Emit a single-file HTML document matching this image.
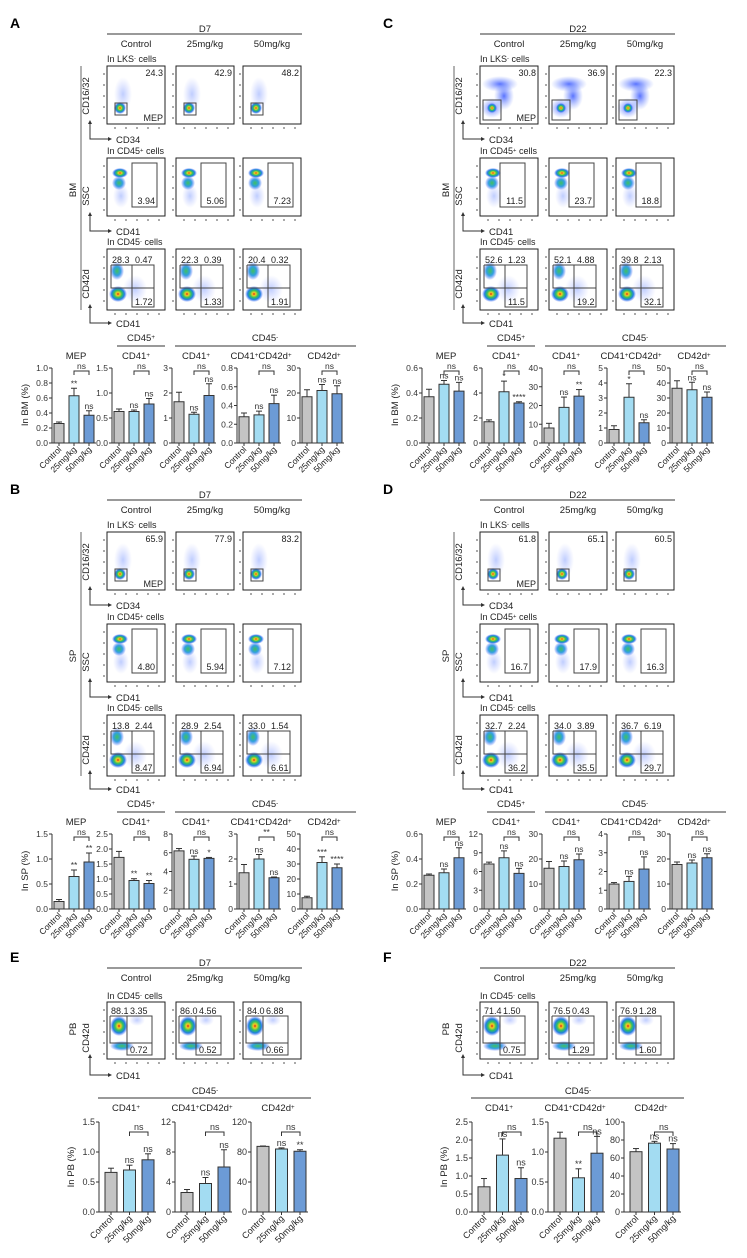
<!DOCTYPE html>
<html><head><meta charset="utf-8">
<style>
html,body{margin:0;padding:0;background:#fff;}
svg{display:block;font-family:"Liberation Sans",Arial,sans-serif;}
</style></head>
<body>
<svg id="fig" xmlns="http://www.w3.org/2000/svg" width="747" height="1258" viewBox="0 0 747 1258">
<defs>
<radialGradient id="hot">
<stop offset="0" stop-color="#e0201a"/>
<stop offset="0.2" stop-color="#f0d020"/>
<stop offset="0.45" stop-color="#30c060"/>
<stop offset="0.7" stop-color="#2080e0"/>
<stop offset="1" stop-color="#4060ff" stop-opacity="0"/>
</radialGradient>
<radialGradient id="grn">
<stop offset="0" stop-color="#40c060"/>
<stop offset="0.5" stop-color="#30a0e0"/>
<stop offset="1" stop-color="#4060ff" stop-opacity="0"/>
</radialGradient>
<radialGradient id="cool">
<stop offset="0" stop-color="#3050ff" stop-opacity="0.8"/>
<stop offset="1" stop-color="#6080ff" stop-opacity="0"/>
</radialGradient>
<radialGradient id="faint">
<stop offset="0" stop-color="#7090ff" stop-opacity="0.45"/>
<stop offset="1" stop-color="#90a0ff" stop-opacity="0"/>
</radialGradient>
</defs>
<g id="root"></g>
</svg>
<script>
// ---------- bar chart data ----------
const groups = ["Control", "25mg/kg", "50mg/kg"];
// Panel A (BM, D7)
const aTitles = ["MEP", "CD41+", "CD41+", "CD41+CD42d+", "CD42d+"];
const aMax = [1.0, 1.5, 3, 0.8, 30];
const aTicks = [["0.0","0.2","0.4","0.6","0.8","1.0"],["0.0","0.5","1.0","1.5"],["0","1","2","3"],["0.0","0.2","0.4","0.6","0.8"],["0","10","20","30"]];
const aMeans = [[0.26,0.63,0.37],[0.63,0.63,0.78],[1.65,1.15,1.9],[0.28,0.30,0.42],[18.5,21,19.7]];
const aErrs = [[0.02,0.10,0.06],[0.05,0.03,0.11],[0.38,0.08,0.47],[0.04,0.04,0.09],[2.8,2.4,3.2]];
const aAnn = [["","**","ns"],["","ns","ns"],["","ns","ns"],["","ns","ns"],["","ns","ns"]];
const aBr = ["ns","ns","ns","ns","ns"];
// Panel B (SP, D7)
const bMax = [1.5, 2.5, 8, 3, 50];
const bTicks = [["0.0","0.5","1.0","1.5"],["0.0","0.5","1.0","1.5","2.0","2.5"],["0","2","4","6","8"],["0","1","2","3"],["0","10","20","30","40","50"]];
const bMeans = [[0.15,0.65,0.94],[1.72,0.95,0.85],[6.2,5.3,5.4],[1.45,2.0,1.25],[7.5,31,27.5]];
const bErrs = [[0.04,0.13,0.18],[0.20,0.06,0.10],[0.25,0.35,0.10],[0.33,0.18,0.03],[1.0,3.8,2.5]];
const bAnn = [["","**","**"],["","**","**"],["","ns","*"],["","ns","ns"],["","***","****"]];
const bBr = ["ns","ns","ns","**","ns"];
// Panel C (BM, D22)
const cMax = [0.6, 6, 40, 5, 50];
const cTicks = [["0.0","0.2","0.4","0.6"],["0","2","4","6"],["0","10","20","30","40"],["0","1","2","3","4","5"],["0","10","20","30","40","50"]];
const cMeans = [[0.37,0.47,0.415],[1.7,4.1,3.2],[8,19,25],[0.9,3.05,1.35],[36.5,35.5,30.5]];
const cErrs = [[0.06,0.03,0.07],[0.15,0.85,0.10],[2.5,5.5,3.5],[0.25,0.9,0.2],[5,5,3.5]];
const cAnn = [["","ns","ns"],["","*","****"],["","ns","**"],["","*","ns"],["","ns","ns"]];
const cBr = ["ns","ns","ns","ns","ns"];
// Panel D (SP, D22)
const dMax = [0.6, 12, 30, 4, 30];
const dTicks = [["0.0","0.2","0.4","0.6"],["0","3","6","9","12"],["0","10","20","30"],["0","1","2","3","4"],["0","10","20","30"]];
const dMeans = [[0.27,0.29,0.41],[7.2,8.2,5.7],[16.3,17,19.7],[1.33,1.47,2.13],[17.8,18.4,20.5]];
const dErrs = [[0.01,0.03,0.08],[0.3,1.1,0.8],[2.7,2.2,2.3],[0.08,0.27,0.65],[1.0,1.2,1.6]];
const dAnn = [["","ns","ns"],["","ns","ns"],["","ns","ns"],["","ns","ns"],["","ns","ns"]];
const dBr = ["ns","ns","ns","ns","ns"];
// Panel E (PB, D7)
const eTitles = ["CD41+", "CD41+CD42d+", "CD42d+"];
const eMax = [1.5, 12, 120];
const eTicks = [["0.0","0.5","1.0","1.5"],["0","4","8","12"],["0","40","80","120"]];
const eMeans = [[0.66,0.70,0.87],[2.6,3.8,6.0],[87.5,84,81]];
const eErrs = [[0.07,0.08,0.10],[0.4,0.8,2.3],[0.5,1.5,2.0]];
const eAnn = [["","ns","ns"],["","ns","ns"],["","ns","**"]];
// Panel F (PB, D22)
const fMax = [2.5, 1.5, 100];
const fTicks = [["0.0","0.5","1.0","1.5","2.0","2.5"],["0.0","0.5","1.0","1.5"],["0","20","40","60","80","100"]];
const fMeans = [[0.70,1.58,0.93],[1.23,0.57,0.98],[67,76.5,70]];
const fErrs = [[0.23,0.45,0.30],[0.10,0.15,0.28],[3.5,2.0,6.0]];
const fAnn = [["","ns","ns"],["","**","ns"],["","ns","ns"]];
// flow numbers
const flowA = {r1:["24.3","42.9","48.2"], r2:["3.94","5.06","7.23"], r3:[["28.3","0.47","1.72"],["22.3","0.39","1.33"],["20.4","0.32","1.91"]]};
const flowB = {r1:["65.9","77.9","83.2"], r2:["4.80","5.94","7.12"], r3:[["13.8","2.44","8.47"],["28.9","2.54","6.94"],["33.0","1.54","6.61"]]};
const flowC = {r1:["30.8","36.9","22.3"], r2:["11.5","23.7","18.8"], r3:[["52.6","1.23","11.5"],["52.1","4.88","19.2"],["39.8","2.13","32.1"]]};
const flowD = {r1:["61.8","65.1","60.5"], r2:["16.7","17.9","16.3"], r3:[["32.7","2.24","36.2"],["34.0","3.89","35.5"],["36.7","6.19","29.7"]]};
const flowE = [["88.1","3.35","0.72"],["86.0","4.56","0.52"],["84.0","6.88","0.66"]];
const flowF = [["71.4","1.50","0.75"],["76.5","0.43","1.29"],["76.9","1.28","1.60"]];

const NS = "http://www.w3.org/2000/svg";
const root = document.getElementById("root");
const colors = ["#c4c4c4", "#a3dcf2", "#6c9bd6"];
function mk(tag, attrs, parent, txt) {
  const e = document.createElementNS(NS, tag);
  for (const k in attrs) e.setAttribute(k, attrs[k]);
  if (txt !== undefined) e.textContent = txt;
  (parent || root).appendChild(e);
  return e;
}
function txt(x, y, s, size, anchor, parent, name) {
  const t = mk("text", {x:x, y:y, "font-size":size, "text-anchor":anchor||"start", fill:"#222"}, parent);
  
  
  const parts = s.split(/([+\-](?=$|\s|C))/);
  parts.forEach(p => {
    if (p === "+" || p === "-") {
      mk("tspan", {"font-size": size*0.65, "baseline-shift": "35%"}, t, p);
    } else if (p) {
      mk("tspan", {}, t, p);
    }
  });
  return t;
}
function line(x1,y1,x2,y2,w,c,parent){
  const l = mk("line",{x1:x1,y1:y1,x2:x2,y2:y2,stroke:c||"#222","stroke-width":w||1},parent);
  
  
  return l;
}

// ---------- bar chart ----------
function barChart(axisX, topY, zeroY, max, ticks, means, errs, ann, bracket, opt) {
  const g = mk("g", {});
  
  
  const bw = opt.bw, step = opt.step, off = opt.off;
  const yScale = v => zeroY - (v / max) * (zeroY - topY);
  const xPos = i => axisX + off + i * step;
  const right = xPos(2) + bw + 2;
  line(axisX, topY, axisX, zeroY, 1, "#333", g);
  line(axisX, zeroY, right, zeroY, 1, "#333", g);
  ticks.forEach((t, i) => {
    const v = max * i / (ticks.length - 1);
    const y = yScale(v);
    line(axisX - 3, y, axisX, y, 1, "#333", g);
    const tt = mk("text", {x: axisX - 4, y: y + 3, "font-size": opt.fs, "text-anchor": "end", fill: "#333"}, g, t);
    
    
  });
  means.forEach((m, i) => {
    const x = xPos(i), y = yScale(m);
    const r = mk("rect", {x: x, y: y, width: bw, height: zeroY - y, fill: colors[i], stroke: "#333", "stroke-width": 1}, g);
    
    
    const cx = x + bw / 2, ye = yScale(m + errs[i]);
    line(cx, y, cx, ye, 1, "#333", g);
    line(cx - 3, ye, cx + 3, ye, 1, "#333", g);
    line(cx, zeroY, cx, zeroY + 3, 1, "#333", g);
    if (ann[i]) {
      const a = mk("text", {x: cx, y: ye - 2, "font-size": opt.fs, "text-anchor": "middle", fill: "#333"}, g, ann[i]);
      
      
    }
    const lt = mk("text", {x: cx + 3, y: zeroY + 7, "font-size": opt.fs, "text-anchor": "end", fill: "#222", transform: `rotate(-45 ${cx + 3} ${zeroY + 7})`}, g, groups[i]);
    
    
  });
  if (bracket) {
    const x1 = xPos(1) + bw / 2, x2 = xPos(2) + bw / 2, by = topY + opt.brY;
    const p = mk("path", {d: `M${x1},${by + 4}V${by}H${x2}V${by + 4}`, fill: "none", stroke: "#333", "stroke-width": 1}, g);
    
    
    const bt = mk("text", {x: (x1 + x2) / 2, y: by - 2, "font-size": opt.fs, "text-anchor": "middle", fill: "#333"}, g, bracket);
    
    
  }
  return {cx: (axisX + right) / 2};
}

// ---------- flow plot ----------
function flowPlot(x, y, w, h, kind, nums, isFirst, dense) {
  const g = mk("g", {});
  
  
  const fr = mk("rect", {x: x, y: y, width: w, height: h, fill: "#fff", stroke: "#222", "stroke-width": 1}, g);
  
  
  for (let i = 0; i < 5; i++) {
    line(x - 4, y + 8 + i * 11, x - 2, y + 8 + i * 11, 1, "#555", g);
    line(x + 8 + i * 11, y + h + 3, x + 8 + i * 11, y + h + 5, 1, "#555", g);
  }
  const blob = (cx, cy, rx, ry, f) => {
    const e = mk("ellipse", {cx: x + cx, cy: y + cy, rx: rx, ry: ry, fill: "url(#" + f + ")"}, g);
    
    
  };
  if (kind === 1) {
    if (dense) { blob(20, 18, 18, 8, "cool"); blob(24, 30, 10, 14, "cool"); blob(12, 42, 11, 10, "cool"); blob(12, 42, 5, 5, "hot"); }
    else { blob(16, 28, 9, 17, "faint"); blob(13, 42, 6, 6, "hot"); }
    const gx = dense ? 3 : 8, gy = dense ? 34 : 37, gs = dense ? 18 : 12;
    const gr = mk("rect", {x: x + gx, y: y + gy, width: gs, height: dense ? 20 : 12, fill: "none", stroke: "#444", "stroke-width": 1}, g);
    
    
    mk("text", {x: x + w - 2, y: y + 10, "font-size": 9, "text-anchor": "end", fill: "#222"}, g, nums);
    if (isFirst) mk("text", {x: x + w - 2, y: y + h - 3, "font-size": 9, "text-anchor": "end", fill: "#222"}, g, "MEP");
  } else if (kind === 2) {
    blob(14, 38, 8, 12, "faint"); blob(12, 25, 7, 7, "grn"); blob(13, 15, 8, 5, "hot");
    const gx = dense ? 20 : 25;
    const gr = mk("rect", {x: x + gx, y: y + 5, width: 25, height: 44, fill: "none", stroke: "#444", "stroke-width": 1}, g);
    
    
    mk("text", {x: x + gx + 23, y: y + 46, "font-size": 9, "text-anchor": "end", fill: "#222"}, g, nums);
  } else {
    const pb = kind === 4;
    if (pb) { blob(15, 44, 12, 5, "grn"); blob(12, 24, 9, 10, "hot"); blob(30, 18, 8, 6, "faint"); }
    else { blob(28, 40, 12, 14, "faint"); blob(10, 22, 7, 9, "grn"); blob(11, 45, 9, 8, "hot"); }
    const gx = pb ? 3 : 4, gy = pb ? 14 : 16, gsx = pb ? 20 : 25, gsy = pb ? 41 : 39, gr2 = pb ? 45 : 47, gb = pb ? 53 : 58;
    const p = mk("path", {d: `M${x+gx},${y+gy}H${x+gr2}V${y+gb}H${x+gsx}V${y+gy}M${x+gx},${y+gy}V${y+gsy}H${x+gr2}`, fill: "none", stroke: "#444", "stroke-width": 1}, g);
    
    
    mk("text", {x: x + gx + 1, y: y + gy - 2, "font-size": 9, fill: "#222"}, g, nums[0]);
    mk("text", {x: x + gsx + 3, y: y + gy - 2, "font-size": 9, fill: "#222"}, g, nums[1]);
    mk("text", {x: x + gsx + 3, y: y + gb - 2, "font-size": 9, fill: "#222"}, g, nums[2]);
  }
}
function axisArrow(x, yTop, yBot, xEnd, ylab, xlab, yLabY) {
  const p = mk("path", {d: `M${x},${yTop}V${yBot}H${xEnd}`, fill: "none", stroke: "#333", "stroke-width": 1});
  
  
  mk("path", {d: `M${xEnd},${yBot - 2}L${xEnd + 4},${yBot}L${xEnd},${yBot + 2}Z`, fill: "#333"});
  mk("path", {d: `M${x - 2},${yTop}L${x},${yTop - 4}L${x + 2},${yTop}Z`, fill: "#333"});
  const yl = mk("text", {x: x - 1, y: yLabY, "font-size": 9.5, "text-anchor": "middle", fill: "#222", transform: `rotate(-90 ${x - 1} ${yLabY})`}, root, ylab);
  
  
  const xl = mk("text", {x: xEnd + 8, y: yBot + 4, "font-size": 9.5, fill: "#222"}, root, xlab);
  
  
}

const colX = [107, 176, 243];
function header(ox, oy, day) {
  txt(ox + 205, oy + 32, day, 9.5, "middle", root, "day-header");
  line(ox + 107, oy + 34, ox + 302, oy + 34, 1, "#333");
  ["Control", "25mg/kg", "50mg/kg"].forEach((s, i) => txt(ox + colX[i] + 29, oy + 47, s, 9.5, "middle", root, "group-header"));
}
function panelFlow(ox, oy, letter, day, tissue, f, dense) {
  const L = mk("text", {x: ox + 10, y: oy + 28, "font-size": 14, "font-weight": "bold", fill: "#000"}, root, letter);
  
  
  header(ox, oy, day);
  line(ox + 81, oy + 66, ox + 81, oy + 310, 1, "#666");
  const tl = mk("text", {x: ox + 76, y: oy + 190, "font-size": 9.5, "text-anchor": "middle", fill: "#222", transform: `rotate(-90 ${ox + 76} ${oy + 190})`}, root, tissue);
  
  
  const rowsY = [66, 158, 249];
  const rowLab = ["In LKS- cells", "In CD45+ cells", "In CD45- cells"];
  rowsY.forEach((ry, r) => {
    txt(ox + 107, oy + ry - 4, rowLab[r], 9, "start", root, "gate-population-label");
    colX.forEach((cx, i) => {
      const nums = r === 0 ? f.r1[i] : r === 1 ? f.r2[i] : f.r3[i];
      flowPlot(ox + cx, oy + ry, 58, r === 2 ? 61 : 58, r + 1, nums, i === 0, dense && r !== 2 ? (r === 0 ? dense : true) : false);
    });
  });
  axisArrow(ox + 90, oy + 124, oy + 139, ox + 108, "CD16/32", "CD34", oy + 96);
  axisArrow(ox + 90, oy + 216, oy + 231, ox + 108, "SSC", "CD41", oy + 196);
  axisArrow(ox + 90, oy + 308, oy + 323, ox + 108, "CD42d", "CD41", oy + 284);
}
function panelBars(ox, oy, tissue, max, ticks, means, errs, ann, br) {
  const axes = [52, 112, 172, 237, 300];
  const topY = oy + 368, zeroY = oy + 443;
  const hy = oy + 341;
  txt(ox + 141, hy, "CD45+", 9.5, "middle", root, "group-title");
  line(ox + 117, hy + 5, ox + 165, hy + 5, 1, "#333");
  txt(ox + 265, hy, "CD45-", 9.5, "middle", root, "group-title");
  line(ox + 175, hy + 5, ox + 356, hy + 5, 1, "#333");
  axes.forEach((ax, k) => {
    barChart(ox + ax, topY, zeroY, max[k], ticks[k], means[k], errs[k], ann[k], br[k], {bw: 10, step: 15, off: 2, fs: 8.5, brY: 3});
    txt(ox + ax + 24, oy + 359, aTitles[k], 9.5, "middle", root, "chart-title");
  });
  const yl = mk("text", {x: ox + 28, y: oy + 405, "font-size": 9.5, "text-anchor": "middle", fill: "#222", transform: `rotate(-90 ${ox + 28} ${oy + 405})`}, root, "In " + tissue + " (%)");
  
  
}
function panelPB(ox, oy, letter, day, f, max, ticks, means, errs, ann) {
  const L = mk("text", {x: ox + 10, y: oy + 28, "font-size": 14, "font-weight": "bold", fill: "#000"}, root, letter);
  
  
  header(ox, oy, day);
  txt(ox + 107, oy + 65, "In CD45- cells", 9, "start", root, "gate-population-label");
  colX.forEach((cx, i) => flowPlot(ox + cx, oy + 68, 58, 57, 4, f[i], i === 0, false));
  const tl = mk("text", {x: ox + 76, y: oy + 95, "font-size": 9.5, "text-anchor": "middle", fill: "#222", transform: `rotate(-90 ${ox + 76} ${oy + 95})`}, root, "PB");
  
  
  axisArrow(ox + 90, oy + 124, oy + 141, ox + 108, "CD42d", "CD41", oy + 104);
  txt(ox + 205, oy + 160, "CD45-", 9.5, "middle", root, "group-title");
  line(ox + 98, oy + 164, ox + 311, oy + 164, 1, "#333");
  const axes = [99, 175, 251];
  axes.forEach((ax, k) => {
    barChart(ox + ax, oy + 188, oy + 278, max[k], ticks[k], means[k], errs[k], ann[k], "ns", {bw: 12, step: 18.5, off: 6, fs: 9, brY: 10});
    txt(ox + ax + 27, oy + 177, eTitles[k], 9.5, "middle", root, "chart-title");
  });
  const yl = mk("text", {x: ox + 74, y: oy + 233, "font-size": 9.5, "text-anchor": "middle", fill: "#222", transform: `rotate(-90 ${ox + 74} ${oy + 233})`}, root, "In PB (%)");
  
  
}

panelFlow(0, 0, "A", "D7", "BM", flowA, false);
panelBars(0, 0, "BM", aMax, aTicks, aMeans, aErrs, aAnn, aBr);
panelFlow(0, 466, "B", "D7", "SP", flowB, false);
panelBars(0, 466, "SP", bMax, bTicks, bMeans, bErrs, bAnn, bBr);
panelFlow(373, 0, "C", "D22", "BM", flowC, true);
panelBars(370, 0, "BM", cMax, cTicks, cMeans, cErrs, cAnn, cBr);
panelFlow(373, 466, "D", "D22", "SP", flowD, false);
panelBars(370, 466, "SP", dMax, dTicks, dMeans, dErrs, dAnn, dBr);
panelPB(0, 934, "E", "D7", flowE, eMax, eTicks, eMeans, eErrs, eAnn);
panelPB(373, 934, "F", "D22", flowF, fMax, fTicks, fMeans, fErrs, fAnn);
</script>
</body></html>
